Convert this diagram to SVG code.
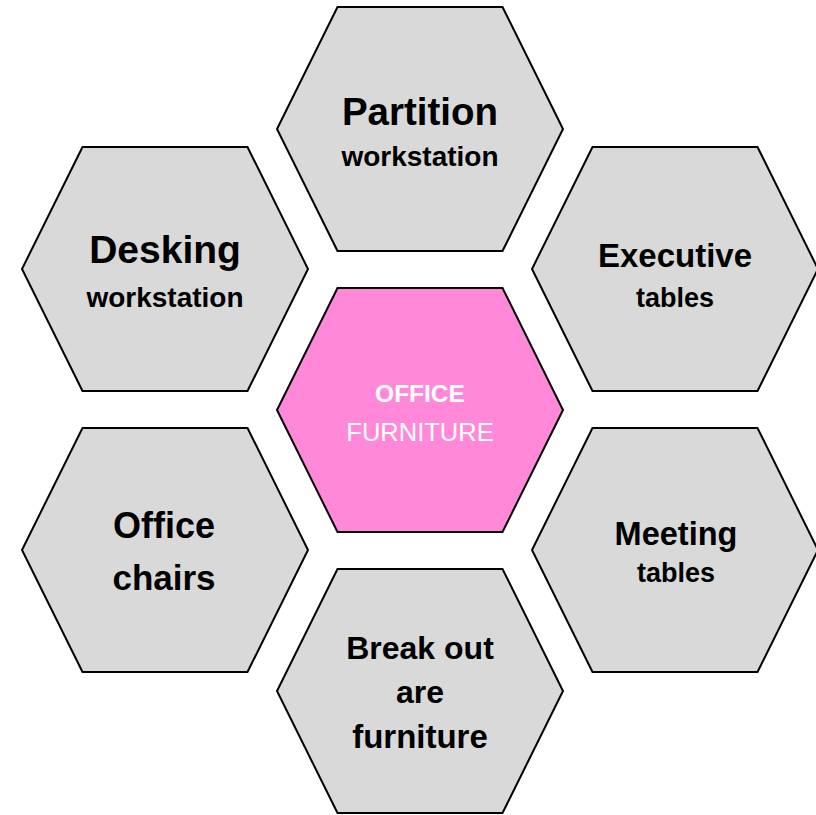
<svg xmlns="http://www.w3.org/2000/svg" xmlns:xlink="http://www.w3.org/1999/xlink" width="816" height="815" viewBox="0 0 816 815">
<defs>
<polygon id="hex" points="-82.5,-122 82.5,-122 143,0 82.5,122 -82.5,122 -143,0"/>
<style>
.g{fill:#D9D9D9;stroke:#000;stroke-width:2;stroke-linejoin:miter}
.p{fill:#FF89D8;stroke:#000;stroke-width:2}
text{font-family:"Liberation Sans",Arial,sans-serif;text-anchor:middle;fill:#000}
.b{font-weight:bold}
.w{fill:#fff}
</style>
</defs>
<rect width="816" height="815" fill="#fff"/>
<g id="partition">
<use xlink:href="#hex" href="#hex" class="g" x="420" y="129"/>
<text class="b" x="420" y="125" font-size="38.5">Partition</text>
<text class="b" x="420" y="166" font-size="28">workstation</text>
</g>
<g id="desking">
<use xlink:href="#hex" href="#hex" class="g" x="165" y="269"/>
<text class="b" x="165" y="263" font-size="39">Desking</text>
<text class="b" x="165" y="307" font-size="28">workstation</text>
</g>
<g id="executive">
<use xlink:href="#hex" href="#hex" class="g" x="675" y="269"/>
<text class="b" x="675" y="267" font-size="33">Executive</text>
<text class="b" x="675" y="307" font-size="27">tables</text>
</g>
<g id="center">
<use xlink:href="#hex" href="#hex" class="p" x="420" y="410"/>
<text class="b w" x="420" y="402" font-size="24.5">OFFICE</text>
<text class="w" x="420" y="441" font-size="25.5">FURNITURE</text>
</g>
<g id="chairs">
<use xlink:href="#hex" href="#hex" class="g" x="165" y="550"/>
<text class="b" x="164" y="538" font-size="36">Office</text>
<text class="b" x="164" y="590" font-size="35">chairs</text>
</g>
<g id="meeting">
<use xlink:href="#hex" href="#hex" class="g" x="675" y="550"/>
<text class="b" x="676" y="545" font-size="32.5">Meeting</text>
<text class="b" x="676" y="582" font-size="27">tables</text>
</g>
<g id="breakout">
<use xlink:href="#hex" href="#hex" class="g" x="420" y="691"/>
<text class="b" x="420" y="659" font-size="32">Break out</text>
<text class="b" x="420" y="703" font-size="32">are</text>
<text class="b" x="420" y="748" font-size="33">furniture</text>
</g>
</svg>
